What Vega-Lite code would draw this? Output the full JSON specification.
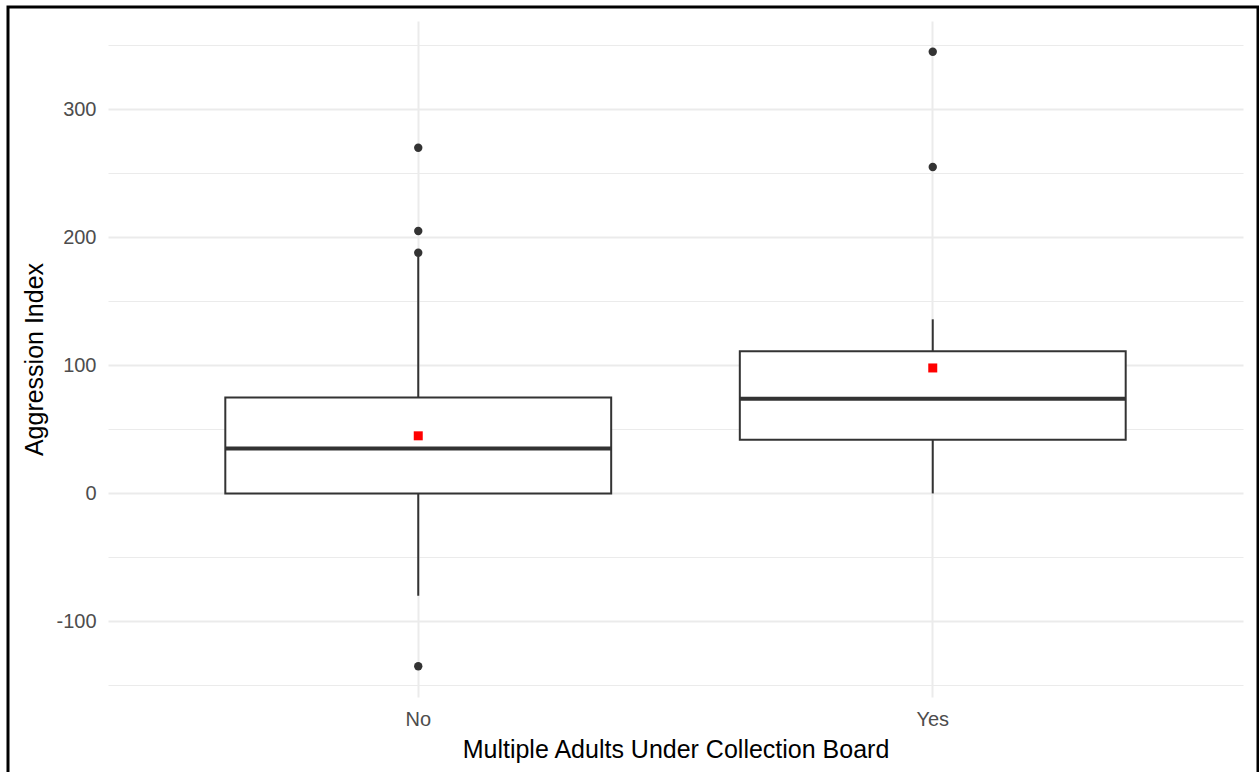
{
  "$schema": "https://vega.github.io/schema/vega-lite/v6.json",
  "width": 1135,
  "height": 676,
  "autosize": "none",
  "padding": {"left": 108, "top": 21, "right": 16, "bottom": 75},
  "background": "white",
  "config": {
    "view": {"stroke": null},
    "font": "Liberation Sans",
    "axis": {
      "domain": false,
      "ticks": false,
      "gridColor": "#EBEBEB",
      "labelFont": "Liberation Sans",
      "labelFontSize": 20,
      "labelColor": "#4D4D4D",
      "titleFont": "Liberation Sans",
      "titleFontSize": 25,
      "titleFontWeight": "normal",
      "titleColor": "#000000"
    }
  },
  "datasets": {
    "stats": [
      {"group": "No", "lower": -80, "q1": 0, "median": 35, "q3": 75, "upper": 185, "mean": 45},
      {"group": "Yes", "lower": 0, "q1": 42, "median": 74, "q3": 111, "upper": 136, "mean": 98}
    ],
    "outliers": [
      {"group": "No", "value": 270},
      {"group": "No", "value": 205},
      {"group": "No", "value": 188},
      {"group": "No", "value": -135},
      {"group": "Yes", "value": 345},
      {"group": "Yes", "value": 255}
    ],
    "frame": [{"part": "border"}]
  },
  "encoding": {
    "x": {
      "field": "group",
      "type": "nominal",
      "title": "Multiple Adults Under Collection Board",
      "scale": {"domain": ["No", "Yes"], "paddingInner": 0.25, "paddingOuter": 0.228},
      "axis": {
        "grid": true,
        "gridWidth": 2,
        "labelAngle": 0,
        "labelPadding": 12,
        "titlePadding": 8
      }
    }
  },
  "layer": [
    {
      "data": {"name": "stats"},
      "mark": {"type": "rule", "color": "#333333", "strokeWidth": 2},
      "encoding": {
        "y": {
          "field": "lower",
          "type": "quantitative",
          "title": "Aggression Index",
          "scale": {"domain": [-159, 369], "nice": false, "zero": false},
          "axis": {
            "values": [-150, -100, -50, 0, 50, 100, 150, 200, 250, 300, 350],
            "labelExpr": "datum.value % 100 === 0 ? toString(datum.value) : ''",
            "gridWidth": {"condition": {"test": "datum.value % 100 !== 0", "value": 1.2}, "value": 2},
            "labelPadding": 12,
            "titlePadding": 8
          }
        },
        "y2": {"field": "upper"}
      }
    },
    {
      "data": {"name": "stats"},
      "mark": {"type": "bar", "fill": "white", "stroke": "#333333", "strokeWidth": 2},
      "encoding": {
        "y": {"field": "q1", "type": "quantitative"},
        "y2": {"field": "q3"}
      }
    },
    {
      "data": {"name": "stats"},
      "mark": {"type": "bar", "fill": null, "stroke": "#333333", "strokeWidth": 4},
      "encoding": {
        "y": {"field": "median", "type": "quantitative"},
        "y2": {"field": "median"}
      }
    },
    {
      "data": {"name": "outliers"},
      "mark": {"type": "circle", "color": "#333333", "opacity": 1, "size": 70},
      "encoding": {
        "y": {"field": "value", "type": "quantitative"}
      }
    },
    {
      "data": {"name": "stats"},
      "mark": {"type": "square", "color": "#FF0000", "opacity": 1, "size": 81},
      "encoding": {
        "y": {"field": "mean", "type": "quantitative"}
      }
    },
    {
      "data": {"name": "frame"},
      "mark": {"type": "rect", "fill": null, "stroke": "#000000", "strokeWidth": 3, "clip": false},
      "encoding": {
        "x": {"value": -100},
        "x2": {"value": 1150},
        "y": {"value": -14},
        "y2": {"value": 800}
      }
    }
  ]
}
